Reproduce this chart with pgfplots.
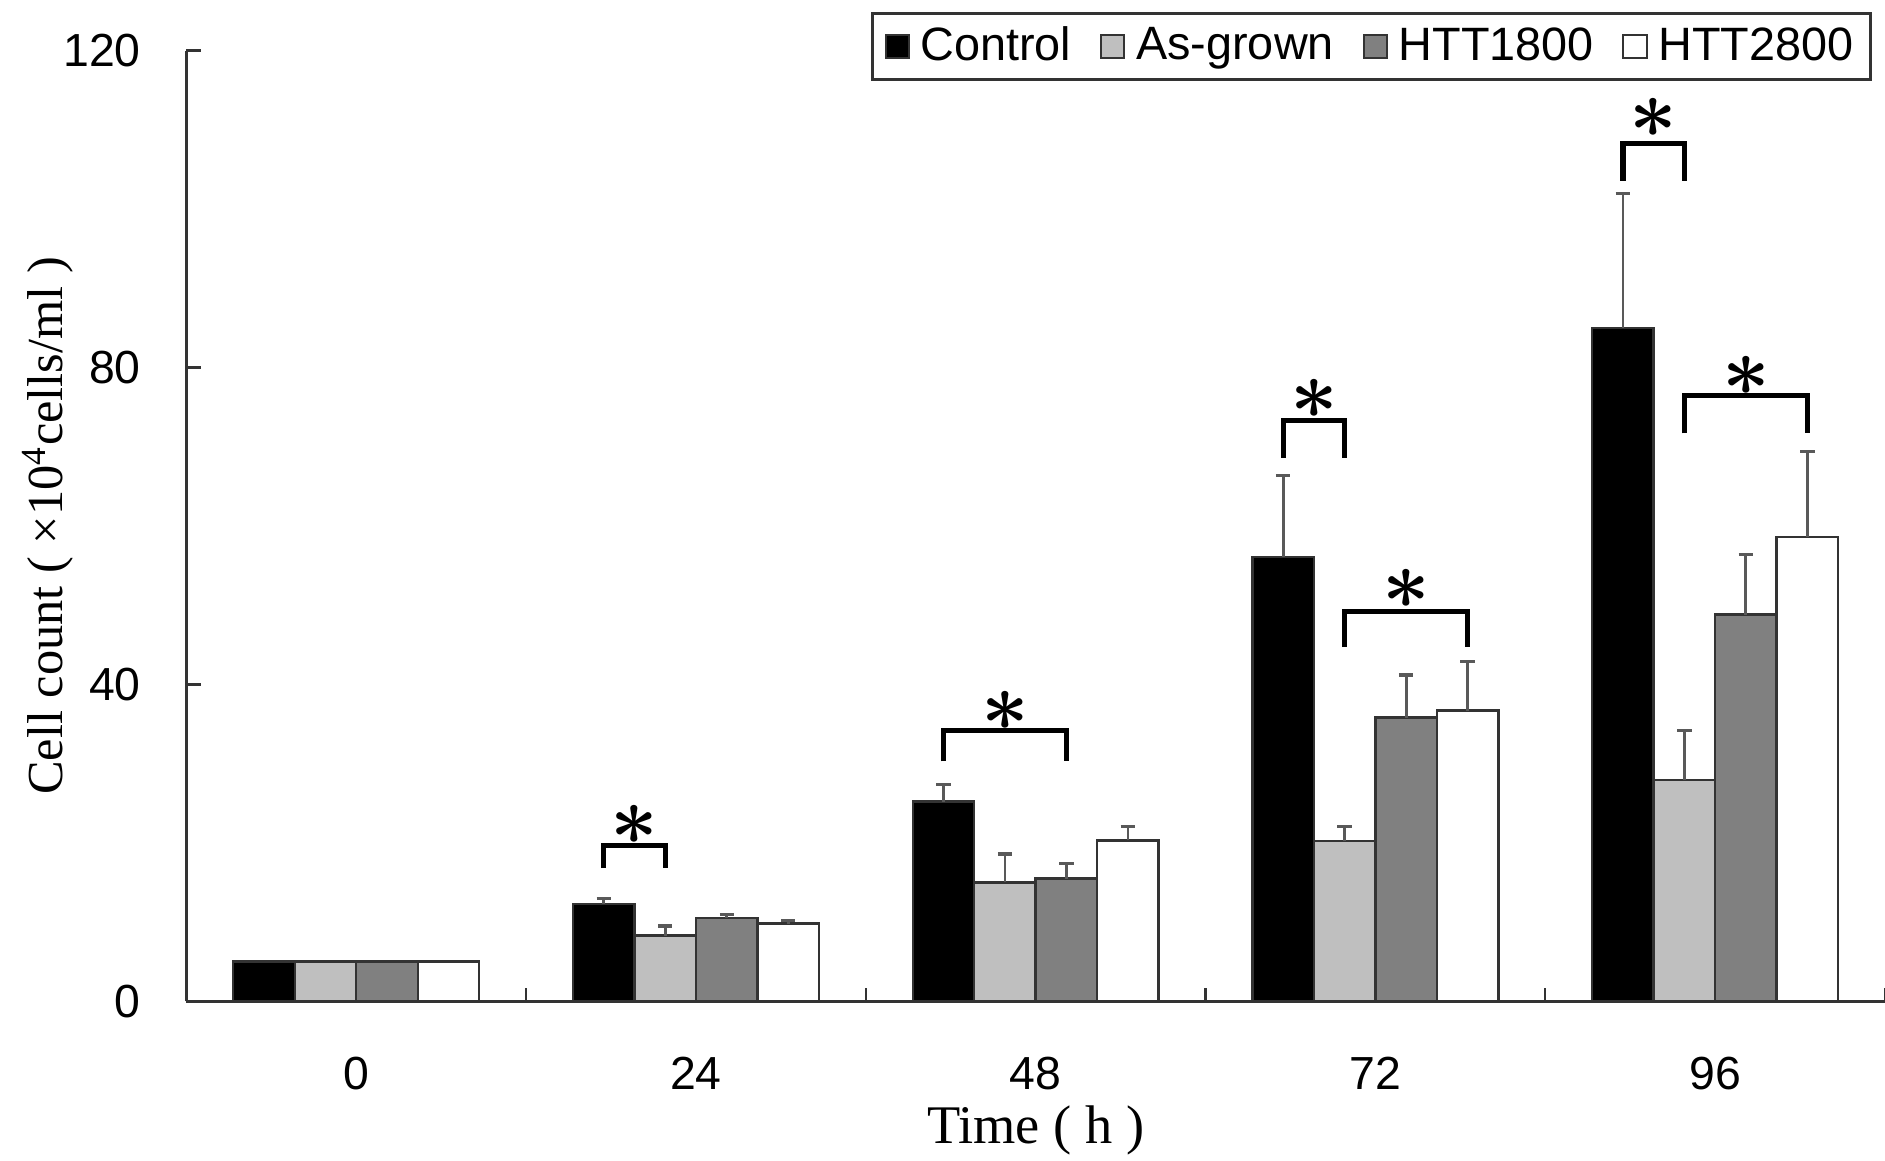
\documentclass[border=0pt]{standalone}
\usepackage{fontspec}
\setmainfont{Liberation Serif}
\newfontfamily\arial{Liberation Sans}
\usepackage{pgfplots}
\pgfplotsset{compat=1.18}
\definecolor{asgrown}{gray}{0.75}
\definecolor{htta}{gray}{0.5}
\definecolor{edge}{gray}{0.2}
\definecolor{errc}{gray}{0.35}

\begin{document}
\begin{tikzpicture}
\useasboundingbox (-46.6pt,-39.9pt) rectangle (424.7pt,250.35pt);
\begin{axis}[
    scale only axis,
    width=424.7pt, height=237.7pt,
    ybar=0pt, bar width=0.181,
    xmin=-0.5, xmax=4.5, ymin=0, ymax=120,
    axis x line=bottom, axis y line=left,
    axis line style={-, edge, line width=0.7pt},
    xtick={0,1,2,3,4}, xticklabels={0,24,48,72,96},
    minor xtick={0.5,1.5,2.5,3.5,4.5},
    major x tick style={draw=none},
    ytick={0,40,80,120},
    tick align=inside, major tick length=3.75pt, minor tick length=3.3pt,
    tick style={edge, line width=0.6pt},
    /pgf/number format/assume math mode=true,
    ticklabel style={font=\fontsize{11.6}{13}\arial},
    yticklabel style={xshift=-7.9pt},
    xticklabel style={yshift=-10.3pt},
    xlabel={Time ( h )},
    ylabel={Cell count ( ×10\textsuperscript{4}cells/ml )},
    xlabel style={font=\fontsize{13.6}{15}\selectfont, at={(axis description cs:0.5,0)}, anchor=center, yshift=-32.3pt},
    ylabel style={font=\fontsize{12.6}{14}\selectfont, at={([xshift=-34.6pt]axis description cs:0,0.5)}, anchor=center},
    every axis plot/.append style={draw=edge, line width=0.6pt},
    error bars/error bar style={errc, line width=0.7pt},
    error bars/error mark options={rotate=90, mark size=1.8pt, errc, line width=0.8pt},
    legend columns=4,
    legend image code/.code={\draw[#1, line width=0.5pt] (0pt,-2.9pt) rectangle (5.8pt,2.9pt);},
    legend style={at={(rel axis cs:0.9922,1.0404)}, anchor=north east,
        draw=edge, line width=0.7pt, font=\fontsize{11.7}{13}\arial,
        inner xsep=3pt, inner ysep=2pt, nodes={inner xsep=1.2pt, inner ysep=1.3pt},
        /tikz/every odd column/.append style={column sep=1.5pt},
        /tikz/every even column/.append style={column sep=6pt}},
]
\addplot[fill=black, error bars/.cd, y dir=plus, y explicit]
  coordinates {(0,5) (1,12.3) +- (0,0.7) (2,25.2) +- (0,2.2) (3,56.1) +- (0,10.3) (4,85.0) +- (0,17.0)};
\addplot[fill=asgrown, error bars/.cd, y dir=plus, y explicit]
  coordinates {(0,5) (1,8.3) +- (0,1.2) (2,15.0) +- (0,3.6) (3,20.2) +- (0,1.9) (4,27.9) +- (0,6.3)};
\addplot[fill=htta, error bars/.cd, y dir=plus, y explicit]
  coordinates {(0,5) (1,10.5) +- (0,0.5) (2,15.5) +- (0,1.9) (3,35.8) +- (0,5.4) (4,48.8) +- (0,7.6)};
\addplot[fill=white, error bars/.cd, y dir=plus, y explicit]
  coordinates {(0,5) (1,9.8) +- (0,0.4) (2,20.3) +- (0,1.8) (3,36.7) +- (0,6.2) (4,58.6) +- (0,10.8)};
\legend{Control, As-grown, HTT1800, HTT2800}

% significance brackets
\draw[black, line width=1.3pt] (axis cs:0.7285,16.8) |- (axis cs:0.9095,19.7) -- (axis cs:0.9095,16.8);
\draw[black, line width=1.3pt] (axis cs:1.7285,30.3) |- (axis cs:2.0905,34.2) -- (axis cs:2.0905,30.3);
\draw[black, line width=1.3pt] (axis cs:2.7285,68.6) |- (axis cs:2.9095,73.3) -- (axis cs:2.9095,68.6);
\draw[black, line width=1.3pt] (axis cs:2.9095,44.7) |- (axis cs:3.2715,49.2) -- (axis cs:3.2715,44.7);
\draw[black, line width=1.3pt] (axis cs:3.7285,103.6) |- (axis cs:3.9095,108.3) -- (axis cs:3.9095,103.6);
\draw[black, line width=1.3pt] (axis cs:3.9095,71.7) |- (axis cs:4.2715,76.5) -- (axis cs:4.2715,71.7);
\tikzset{star/.style={font=\fontsize{21}{21}\selectfont\boldmath, inner sep=0pt}}
\node[star] at (axis cs:0.819,22.3) {$\ast$};
\node[star] at (axis cs:1.9095,36.7) {$\ast$};
\node[star] at (axis cs:2.819,76.0) {$\ast$};
\node[star] at (axis cs:3.0905,52.0) {$\ast$};
\node[star] at (axis cs:3.819,111.5) {$\ast$};
\node[star] at (axis cs:4.0905,79.0) {$\ast$};
\end{axis}
\end{tikzpicture}
\end{document}
